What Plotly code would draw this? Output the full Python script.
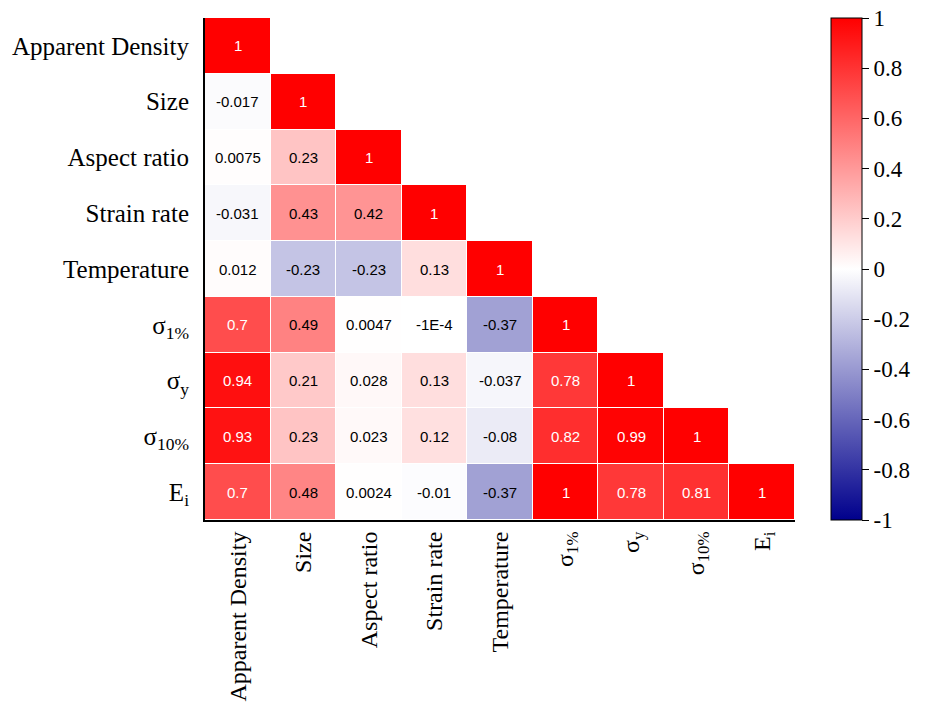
import plotly.graph_objects as go

labels = ["Apparent Density", "Size", "Aspect ratio", "Strain rate", "Temperature",
          "σ<sub>1%</sub>", "σ<sub>y</sub>", "σ<sub>10%</sub>", "E<sub>i</sub>"]

rows = [
    [1],
    [-0.017, 1],
    [0.0075, 0.23, 1],
    [-0.031, 0.43, 0.42, 1],
    [0.012, -0.23, -0.23, 0.13, 1],
    [0.7, 0.49, 0.0047, -1e-4, -0.37, 1],
    [0.94, 0.21, 0.028, 0.13, -0.037, 0.78, 1],
    [0.93, 0.23, 0.023, 0.12, -0.08, 0.82, 0.99, 1],
    [0.7, 0.48, 0.0024, -0.01, -0.37, 1, 0.78, 0.81, 1],
]

row_text = [
    ["1"],
    ["-0.017", "1"],
    ["0.0075", "0.23", "1"],
    ["-0.031", "0.43", "0.42", "1"],
    ["0.012", "-0.23", "-0.23", "0.13", "1"],
    ["0.7", "0.49", "0.0047", "-1E-4", "-0.37", "1"],
    ["0.94", "0.21", "0.028", "0.13", "-0.037", "0.78", "1"],
    ["0.93", "0.23", "0.023", "0.12", "-0.08", "0.82", "0.99", "1"],
    ["0.7", "0.48", "0.0024", "-0.01", "-0.37", "1", "0.78", "0.81", "1"],
]

cbar_ticks = [-1, -0.8, -0.6, -0.4, -0.2, 0, 0.2, 0.4, 0.6, 0.8, 1]

n = len(labels)
z = [[rows[i][j] if j <= i else None for j in range(n)] for i in range(n)]

colorscale = [[0.0, "rgb(0,0,140)"], [0.5, "rgb(255,255,255)"], [1.0, "rgb(255,0,0)"]]

fig = go.Figure()
fig.add_trace(go.Heatmap(
    z=z, x=labels, y=labels, zmin=-1, zmax=1, colorscale=colorscale,
    xgap=1, ygap=1, hoverongaps=False,
    colorbar=dict(
        x=1.061, xanchor="left", y=0.5, yanchor="middle", len=1.0, lenmode="fraction",
        xpad=0, ypad=0,
        thickness=31, outlinewidth=1, outlinecolor="black",
        tickvals=cbar_ticks, ticktext=[("%g" % t) for t in cbar_ticks],
        ticks="outside", ticklen=7, tickcolor="black",
        tickfont=dict(family="Liberation Serif", size=23, color="black"),
    ),
))

for i in range(n):
    for j in range(i + 1):
        v = rows[i][j]
        fig.add_annotation(
            x=labels[j], y=labels[i], text=row_text[i][j], showarrow=False,
            font=dict(family="Liberation Sans", size=15,
                      color="white" if abs(v) > 0.6 else "black"),
        )

fig.update_layout(
    width=935, height=711,
    margin=dict(l=205, r=140, t=18, b=191, autoexpand=False),
    plot_bgcolor="white", paper_bgcolor="white",
    font=dict(family="Liberation Serif", color="black"),
)
fig.update_xaxes(
    showline=True, linecolor="black", linewidth=2, mirror=False, showgrid=False,
    zeroline=False, tickangle=-90, ticks="", ticklabelstandoff=0, automargin=False,
    tickfont=dict(family="Liberation Serif", size=24, color="black"),
)
fig.update_yaxes(
    showline=True, linecolor="black", linewidth=2, showgrid=False, zeroline=False,
    autorange="reversed", ticks="", ticklabelstandoff=9, automargin=False,
    tickfont=dict(family="Liberation Serif", size=25, color="black"),
)

fig.write_html("out.html")
